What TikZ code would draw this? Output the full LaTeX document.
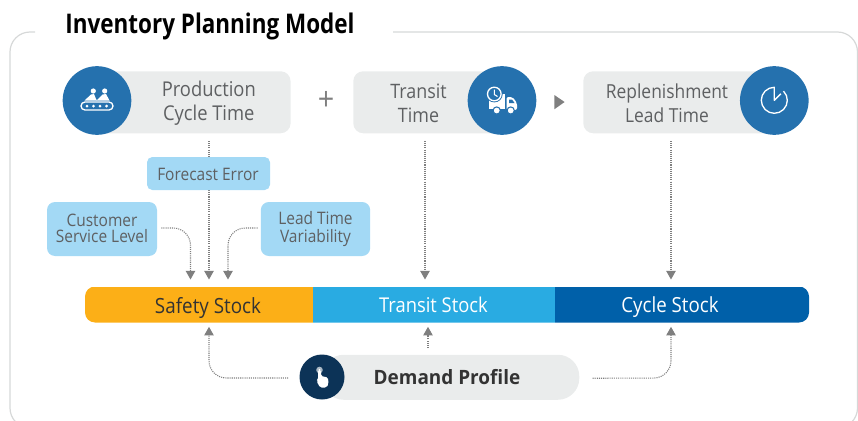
\documentclass[tikz,border=0pt]{standalone}
\usepackage{fontspec}
\setmainfont{Open Sans}[FakeStretch=0.9]
\newfontfamily\ttlfont{Open Sans}[FakeStretch=0.83]
\newfontfamily\demfont{Open Sans}[FakeStretch=0.96]
\usetikzlibrary{arrows.meta,calc}
\definecolor{frameC}{HTML}{D6D8D8}
\definecolor{boxC}{HTML}{EAECEC}
\definecolor{circC}{HTML}{2571AE}
\definecolor{darkC}{HTML}{0C3357}
\definecolor{lblue}{HTML}{A3D9F5}
\definecolor{txtC}{HTML}{5E6062}
\definecolor{arrC}{HTML}{7F7F7F}
\definecolor{orangeC}{HTML}{FCAF17}
\definecolor{midC}{HTML}{29ABE2}
\definecolor{deepC}{HTML}{0060A9}
\tikzset{
  x=0.75pt,y=-0.75pt,
  greybox/.style={fill=boxC,rounded corners=7.5pt,inner sep=0,anchor=north west},
  circ/.style={circle,fill=circC,minimum size=51.5pt,inner sep=0},
  bluebox/.style={fill=lblue,inner sep=0,rounded corners=6pt},
  bluelbl/.style={inner sep=0,text=txtC,align=center},
  mainlbl/.style={text=txtC,align=center,inner sep=0},
  barseg/.style={inner sep=0,minimum height=27pt,anchor=north west},
  barlbl/.style={inner sep=0,anchor=base},
  conn/.style={draw=arrC,line width=0.8pt,dash pattern=on 0.8pt off 0.8pt,rounded corners=13pt,
    -{Triangle[length=6.4pt,width=7pt]}},
  icon/.style={fill=white,draw=none},
}
\lineskiplimit=-6pt
\begin{document}
\begin{tikzpicture}
\useasboundingbox (0,0) rectangle (858,421);
\clip (0,0) rectangle (858,421);
% frame
\draw[frameC,line width=0.9pt,rounded corners=15pt] (35,32) -- (10,32) -- (10,428) -- (857.5,428) -- (857.5,32) -- (393,32);
\node[inner sep=0,anchor=base,font=\fontsize{20.3}{22}\ttlfont\bfseries,text=black] (title) at (210,33) {Inventory Planning Model};
% top boxes
\node[greybox,minimum width=145pt,minimum height=46.5pt] (prod) at (97,71) {};
\node[greybox,minimum width=112pt,minimum height=46.5pt] (trans) at (353,71) {};
\node[greybox,minimum width=143.5pt,minimum height=46.5pt] (reple) at (583,71) {};
\node[circ] (c1) at (97,100.5) {};
\node[circ] (c2) at (502,100.5) {};
\node[circ] (c3) at (774.3,100.5) {};
\node[mainlbl,font=\fontsize{15.3}{18}\selectfont] (prodt) at (208.8,103.2) {\strut Production\\\strut Cycle Time};
\node[mainlbl,font=\fontsize{14.9}{18}\selectfont] (transt) at (418.5,105.2) {\strut Transit\\\strut Time};
\node[mainlbl,font=\fontsize{14.5}{18}\selectfont] (replet) at (667,105.2) {\strut Replenishment\\\strut Lead Time};
\node[inner sep=0,anchor=base,text=arrC,font=\fontsize{24}{24}\selectfont] (plus) at (326,110.6) {+};
\path[fill=arrC] (554.3,95) -- (564.6,102) -- (554.3,109.3) -- cycle;
% stock bar
\begin{scope}
\clip[rounded corners=7.5pt] (85,286.5) rectangle (809,322.5);
\node[barseg,fill=orangeC,minimum width=171pt] (safety) at (85,286.5) {};
\node[barseg,fill=midC,minimum width=181pt] (transit) at (313,286.5) {};
\node[barseg,fill=deepC,minimum width=191.5pt] (cycle) at (554.5,286.5) {};
\end{scope}
\node[barlbl,text=black!80,font=\fontsize{15.7}{18}\selectfont] (safetyt) at (208,313) {Safety Stock};
\node[barlbl,text=white,font=\fontsize{15.3}{18}\selectfont] (transitt) at (433.5,312) {Transit Stock};
\node[barlbl,text=white,font=\fontsize{15.6}{18}\selectfont] (cyclet) at (670,312) {Cycle Stock};
% demand
\node[fill=boxC,rounded corners=16pt,minimum width=192.75pt,minimum height=33.75pt,inner sep=0,anchor=north west] (dem) at (322,354.5) {};
\node[circle,fill=darkC,minimum size=33.75pt,inner sep=0] (c4) at (322,377) {};
\node[inner sep=0,anchor=base,text=black!80,font=\fontsize{14.8}{18}\demfont\bfseries] (demt) at (447,384) {Demand Profile};
% side factor boxes
\node[bluebox,minimum width=82.5pt,minimum height=40.5pt] (cust) at (102,229) {};
\node[bluelbl,font=\fontsize{12.9}{12}\selectfont] (custt) at (102,231) {\strut Customer\\\strut Service Level};
\node[bluebox,minimum width=82pt,minimum height=40.5pt] (lead) at (315.5,229) {};
\node[bluelbl,font=\fontsize{12.9}{13}\selectfont] (leadt) at (315.5,229.7) {\strut Lead Time\\\strut Variability};
% connectors
\coordinate (a1) at (209,141);
\coordinate (a2) at (425,141);
\coordinate (a3) at (671,141);
\draw[conn] (a1) -- (209,279.5);
\draw[conn] (a2) -- (425,279.5);
\draw[conn] (a3) -- (671,279.5);
\draw[conn] ($(cust.east)+(4,-1)$) -- (190.5,228) -- (190.5,279.5);
\draw[conn] ($(lead.west)+(-3,-1)$) -- (228,228) -- (228,279.5);
\draw[conn] ($(c4.west)+(-11,1)$) -- (209,378) -- (209,326.8);
\draw[conn] (428,348) -- (428,326.8);
\draw[conn] ($(dem.east)+(13,1)$) -- (671,378) -- (671,326.8);
\node[bluebox,rounded corners=4pt,minimum width=92.25pt,minimum height=24.75pt] (fore) at (208.5,173.5) {};
\node[inner sep=0,anchor=base,text=txtC,font=\fontsize{12.9}{12}\selectfont] (foret) at (208,180) {Forecast Error};
% icon: conveyor
\draw[white,line width=1pt,rounded corners=3pt] (81,102) rectangle (113,110);
\foreach \i in {87,93.5,100,106.5}{\fill[white] (\i,106) circle (1.5);}
\fill[white] (93.3,91) circle (2.6);
\fill[white] (104.7,91) circle (2.6);
\fill[icon] (84.5,100.5) -- (91,94.5) -- (94,94) -- (96,99) -- (97,100.5) -- cycle;
\fill[icon] (96.5,100.5) -- (102.5,94.5) -- (106,94) -- (109.5,100.5) -- cycle;
% icon: truck
\fill[icon] (489,94) rectangle (505,109);
\fill[icon,rounded corners=1.5pt] (506.5,97) -- (512.5,97) -- (517,103) -- (517,110) -- (506.5,110) -- cycle;
\fill[circC] (509,99.5) -- (512,99.5) -- (514.5,103) -- (509,103) -- cycle;
\fill[white,draw=circC,line width=0.8pt] (496.7,110.5) circle (3.6);
\fill[white,draw=circC,line width=0.8pt] (510.7,110.5) circle (3.6);
\fill[circC] (494.3,94) circle (8.4);
\draw[white,line width=1pt] (494.3,94) circle (6.8);
\draw[white,line width=0.8pt] (494.3,89.5) -- (494.3,94.5) -- (497.5,96.5);
% icon: clock
\coordinate (clk) at (774.3,100.3);
\draw[white,line width=1pt,line join=round] ($(clk)+(9.2,-9.2)$) arc (-45:270:13) -- (clk) -- ($(clk)+(6.5,-6.5)$);
% icon: hand
\fill[white!65!darkC] (319.5,370) circle (3.3);
\fill[white] (319.5,370) circle (1.2);
\fill[icon,rounded corners=1.2pt] (318,370) -- (321,370) -- (321,376) -- (328,377.5) -- (328.5,384) -- (326.5,387.5) -- (320,387.5) -- (316.5,381) -- (318,379.5) -- cycle;
\end{tikzpicture}
\end{document}
